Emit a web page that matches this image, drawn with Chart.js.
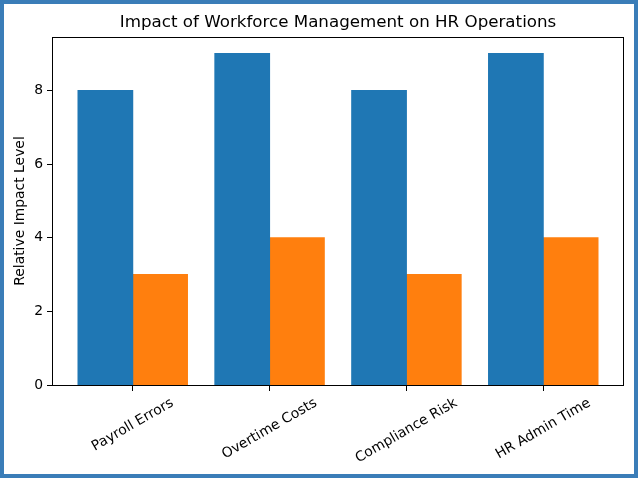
<!DOCTYPE html>
<html lang="en">
  <head>
    <meta charset="UTF-8" />
    <title>Impact of Workforce Management on HR Operations</title>
    <script src="https://cdn.jsdelivr.net/npm/chart.js"></script>
    <style>
      html, body { margin: 0; padding: 0; background: #fff; }
      .frame {
        width: 638px;
        height: 478px;
        box-sizing: border-box;
        border: 4px solid #3a7db8;
        background: #fff;
      }
      canvas { display: block; }
    </style>
  </head>
  <body>
    <div class="frame">
      <canvas id="impactChart" width="630" height="470"></canvas>
    </div>

    <script>
      const categories = ["Payroll Errors", "Overtime Costs", "Compliance Risk", "HR Admin Time"];
      const blueValues = [8, 9, 8, 9];
      const orangeValues = [3, 4, 3, 4];
      const yTicks = [0, 2, 4, 6, 8];

      const FONT = "'DejaVu Sans', sans-serif";
      const TICK_PX = 13.9;

      // draws title, frame, x tick marks and centred rotated category labels
      const extras = {
        id: "extras",
        afterDraw(chart) {
          const ctx = chart.ctx;
          const area = chart.chartArea;
          const xs = chart.scales.x;
          ctx.save();
          ctx.strokeStyle = "#000";
          ctx.lineWidth = 1;
          ctx.strokeRect(area.left + 0.5, area.top + 0.5, area.right - area.left - 1, area.bottom - area.top);

          ctx.fillStyle = "#000";
          ctx.font = "16.7px " + FONT;
          ctx.textAlign = "center";
          ctx.textBaseline = "middle";
          ctx.fillText("Impact of Workforce Management on HR Operations", (area.left + area.right) / 2, 19);

          ctx.font = TICK_PX + "px " + FONT;
          const ang = Math.PI / 6;
          const h = TICK_PX * 1.17;
          categories.forEach((c, i) => {
            const x = xs.getPixelForValue(i);
            ctx.fillStyle = "#000";
            ctx.fillRect(Math.floor(x), Math.round(area.bottom), 1, 6);

            const w = ctx.measureText(c).width;
            const H = w * Math.sin(ang) + h * Math.cos(ang);
            const y = area.bottom + 10 + H / 2;
            ctx.save();
            ctx.translate(x, y);
            ctx.rotate(-ang);
            ctx.fillText(c, 0, 0);
            ctx.restore();
          });
          ctx.restore();
        },
      };

      new Chart(document.getElementById("impactChart"), {
        type: "bar",
        data: {
          datasets: [
            {
              data: blueValues.map((v, i) => ({ x: i, y: v })),
              backgroundColor: "#1f77b4",
            },
            {
              data: orangeValues.map((v, i) => ({ x: i, y: v })),
              backgroundColor: "#ff7f0e",
            },
          ],
        },
        options: {
          responsive: false,
          animation: false,
          events: [],
          layout: { padding: { top: 33, right: 10, left: 0, bottom: 0 } },
          datasets: {
            bar: { categoryPercentage: 0.8, barPercentage: 1.0, borderWidth: 0, inflateAmount: 0.5 },
          },
          plugins: {
            legend: { display: false },
            tooltip: { enabled: false },
            title: { display: false },
          },
          scales: {
            x: {
              type: "linear",
              min: -0.59,
              max: 3.59,
              offset: false,
              afterBuildTicks: (s) => {
                s.ticks = categories.map((c, i) => ({ value: i }));
              },
              afterFit: (s) => { s.height = 89; },
              ticks: { display: false },
              border: { display: false },
              grid: { display: false },
            },
            y: {
              min: 0,
              max: 9.45,
              afterBuildTicks: (s) => {
                s.ticks = yTicks.map((v) => ({ value: v }));
              },
              afterFit: (s) => { s.width = 48; },
              border: { display: false },
              grid: {
                drawOnChartArea: false,
                drawTicks: true,
                tickLength: 5,
                color: "#000",
              },
              ticks: {
                color: "#000",
                padding: 4,
                font: { family: FONT, size: TICK_PX },
              },
              title: {
                display: true,
                text: "Relative Impact Level",
                color: "#000",
                padding: { top: 8, bottom: 0 },
                font: { family: FONT, size: TICK_PX },
              },
            },
          },
        },
        plugins: [extras],
      });
    </script>
  </body>
</html>
